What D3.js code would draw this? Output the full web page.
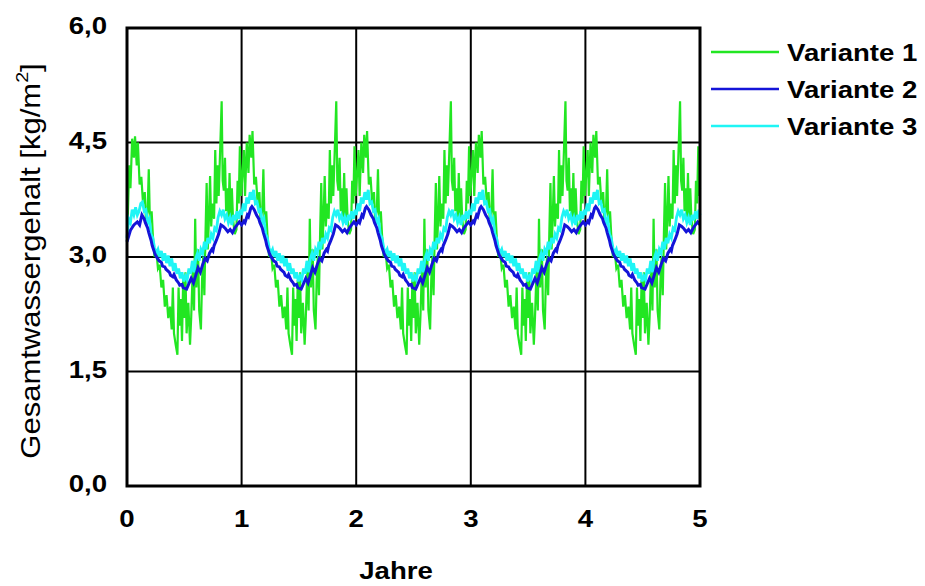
<!DOCTYPE html>
<meta charset='utf-8'>
<script src='https://cdn.jsdelivr.net/npm/d3@7'></script>
<style>
body { margin: 0; background: #fff; }
text { font-family: 'Liberation Sans', Arial, sans-serif; }
</style>
<body>
<script>
// yearly cycle, [fraction of year, value]; every year repeats
var variante1 = [[0.000,3.90],[0.020,4.40],[0.030,3.80],[0.045,4.50],[0.060,4.10],[0.070,4.60],[0.085,4.30],[0.095,4.65],
  [0.110,3.95],[0.125,4.05],[0.140,3.70],[0.155,3.85],[0.165,3.50],[0.180,3.60],[0.190,4.15],[0.200,3.45],[0.215,3.60],
  [0.225,3.30],[0.240,3.00],[0.255,3.10],[0.270,2.85],[0.285,2.90],[0.300,2.60],[0.315,2.70],[0.330,2.35],[0.345,2.50],
  [0.360,2.20],[0.375,2.35],[0.390,2.05],[0.400,2.60],[0.410,2.00],[0.425,1.85],[0.440,1.72],[0.450,2.60],[0.460,2.10],
  [0.470,2.45],[0.480,1.90],[0.490,2.70],[0.500,2.20],[0.510,2.80],[0.520,2.00],[0.535,2.40],[0.550,1.85],[0.560,2.20],
  [0.575,2.90],[0.585,2.30],[0.595,3.50],[0.605,2.60],[0.620,3.10],[0.630,2.30],[0.645,2.05],[0.655,2.70],[0.665,3.00],
  [0.675,2.50],[0.685,3.30],[0.695,3.97],[0.705,3.10],[0.715,3.50],[0.725,4.06],[0.735,3.40],[0.745,3.70],[0.760,3.50],
  [0.770,4.40],[0.780,3.70],[0.790,4.20],[0.800,3.80],[0.815,4.50],[0.826,5.04],[0.835,4.00],[0.845,3.87],[0.855,4.30],
  [0.865,3.60],[0.875,3.90],[0.885,3.50],[0.895,4.10],[0.905,3.45],[0.915,3.90],[0.925,3.50],[0.940,3.30],[0.955,3.36],
  [0.965,4.00],[0.975,3.70],[0.985,4.45],[0.995,3.80]];
var variante2 = [[0.00,3.42],[0.02,3.47],[0.03,3.45],[0.05,3.55],[0.06,3.53],[0.08,3.64],[0.09,3.66],[0.11,3.62],
  [0.13,3.55],[0.15,3.50],[0.16,3.45],[0.18,3.38],[0.19,3.32],[0.21,3.22],[0.22,3.15],[0.24,3.06],[0.25,3.02],
  [0.28,2.95],[0.30,2.93],[0.31,2.88],[0.33,2.87],[0.34,2.84],[0.37,2.80],[0.38,2.76],[0.40,2.74],[0.41,2.77],
  [0.43,2.70],[0.45,2.66],[0.46,2.63],[0.48,2.64],[0.49,2.60],[0.52,2.58],[0.54,2.65],[0.56,2.72],[0.58,2.66],
  [0.60,2.76],[0.62,2.86],[0.64,2.80],[0.66,2.90],[0.68,2.98],[0.70,2.95],[0.72,3.05],[0.74,3.10],[0.75,3.08],
  [0.76,3.15],[0.78,3.22],[0.80,3.30],[0.82,3.42],[0.84,3.40],[0.86,3.37],[0.88,3.33],[0.90,3.36],[0.92,3.32],
  [0.94,3.38],[0.96,3.42],[0.98,3.46]];
var variante3 = [[0.000,3.55],[0.015,3.70],[0.030,3.60],[0.045,3.78],[0.060,3.70],[0.075,3.85],[0.090,3.75],[0.105,3.88],
  [0.120,3.70],[0.135,3.72],[0.150,3.60],[0.165,3.62],[0.180,3.45],[0.195,3.50],[0.210,3.30],[0.225,3.25],[0.240,3.12],
  [0.255,3.05],[0.270,3.10],[0.285,3.00],[0.300,3.08],[0.315,2.95],[0.330,3.05],[0.345,2.92],[0.360,3.02],[0.375,2.88],
  [0.390,2.98],[0.405,2.82],[0.420,2.92],[0.435,2.78],[0.450,2.85],[0.465,2.72],[0.480,2.80],[0.495,2.68],[0.510,2.75],
  [0.525,2.70],[0.540,2.85],[0.555,2.78],[0.570,2.95],[0.585,2.80],[0.600,2.98],[0.615,3.05],[0.630,2.95],[0.645,3.10],
  [0.660,3.05],[0.675,3.20],[0.690,3.10],[0.705,3.25],[0.720,3.18],[0.735,3.30],[0.750,3.25],[0.765,3.38],[0.780,3.35],
  [0.795,3.52],[0.810,3.60],[0.825,3.55],[0.840,3.62],[0.855,3.50],[0.870,3.55],[0.885,3.45],[0.900,3.52],[0.915,3.42],
  [0.930,3.55],[0.945,3.48],[0.960,3.60],[0.975,3.50],[0.990,3.62]];
// first weeks of year 0 (start value 3,2)
var start1 = [[0.000,3.20],[0.010,3.70],[0.020,4.20],[0.030,3.90],[0.045,4.55],[0.060,4.30],[0.070,4.58],[0.085,4.20],[0.095,4.50]];
var start2 = [[0.00,3.20],[0.03,3.35],[0.06,3.42],[0.09,3.46],[0.11,3.42]];
var start3 = [[0.000,3.25],[0.015,3.50],[0.030,3.45],[0.045,3.62],[0.060,3.55],[0.075,3.65],[0.090,3.55],[0.105,3.60]];

var years = 5;
var xTicks = [0, 1, 2, 3, 4, 5];
var yTicks = [0, 1.5, 3, 4.5, 6];
var names = ['Variante 1', 'Variante 2', 'Variante 3'];
var colors = ['#22e622', '#1414d8', '#1ff5f5'];

var width = 925, height = 586;
var margin = {left: 127, right: 225, top: 28, bottom: 100};
var stretch = 1.15; // the original lettering is wide

var svg = d3.select('body').append('svg').attr('width', width).attr('height', height);

var x = d3.scaleLinear().domain([0, years]).range([margin.left, width - margin.right]);
var y = d3.scaleLinear().domain([0, 6]).range([height - margin.bottom, margin.top]);

function buildSeries(cycle, start) {
  var cut = start[start.length - 1][0];
  var pts = [];
  for (var yr = 0; yr < years; yr++) {
    var src = yr === 0 ? start.concat(cycle.filter(function(d) { return d[0] > cut; })) : cycle;
    src.forEach(function(d) { pts.push([yr + d[0], d[1]]); });
  }
  pts.push([years, cycle[0][1]]);
  return pts;
}

var series = [buildSeries(variante1, start1), buildSeries(variante2, start2), buildSeries(variante3, start3)];

function label(px, py, str, anchor) {
  return svg.append('text')
    .attr('transform', 'translate(' + px + ',' + py + ') scale(' + stretch + ',1)')
    .attr('text-anchor', anchor).attr('font-size', 24).attr('font-weight', 'bold')
    .text(str);
}

// grid
var grid = svg.append('g').attr('stroke', '#000').attr('stroke-width', 2);
grid.selectAll('.gx').data(xTicks.slice(1, -1)).enter().append('line')
  .attr('x1', function(d) { return x(d); }).attr('x2', function(d) { return x(d); })
  .attr('y1', y(0)).attr('y2', y(6));
grid.selectAll('.gy').data(yTicks.slice(1, -1)).enter().append('line')
  .attr('x1', x(0)).attr('x2', x(years))
  .attr('y1', function(d) { return y(d); }).attr('y2', function(d) { return y(d); });

// series: green, cyan, blue
var line = d3.line().x(function(d) { return x(d[0]); }).y(function(d) { return y(d[1]); });
var order = [0, 2, 1];
var widths = [2.2, 3, 2.8];
order.forEach(function(i) {
  svg.append('path').datum(series[i])
    .attr('fill', 'none').attr('stroke', colors[i]).attr('stroke-width', widths[i])
    .attr('d', line);
});

// frame
svg.append('rect').attr('x', x(0)).attr('y', y(6)).attr('width', x(years) - x(0)).attr('height', y(0) - y(6))
  .attr('fill', 'none').attr('stroke', '#000').attr('stroke-width', 3);

// tick labels
xTicks.forEach(function(d) { label(x(d), y(0) + 41, d, 'middle'); });
yTicks.forEach(function(d) { label(107, y(d) + 6, d.toFixed(1).replace('.', ','), 'end'); });

// axis titles
label(396, 579, 'Jahre', 'middle');
var yt = svg.append('text').attr('transform', 'translate(40,261) rotate(-90) scale(' + stretch + ',1)')
  .attr('text-anchor', 'middle').attr('font-size', 27);
yt.append('tspan').text('Gesamtwassergehalt [kg/m');
yt.append('tspan').attr('dy', -12).attr('font-size', 17).text('2');
yt.append('tspan').attr('dy', 12).text(']');

// legend
names.forEach(function(n, i) {
  var ly = 52 + i * 37;
  svg.append('line').attr('x1', 711).attr('x2', 779).attr('y1', ly).attr('y2', ly)
    .attr('stroke', colors[i]).attr('stroke-width', 2.5);
  label(787, ly + 9, n, 'start');
});
</script>
